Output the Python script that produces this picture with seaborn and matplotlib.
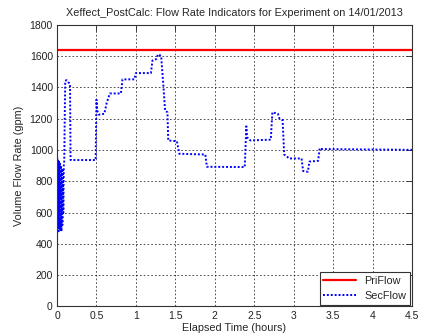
import numpy as np
import pandas as pd
import matplotlib
matplotlib.use("Agg")
import matplotlib.pyplot as plt
import seaborn as sns

# ---- data ----
pri_time = [0.0, 4.5]
pri_flow = [1637, 1637]

sec_time = [0.0, 0.002, 0.008, 0.014, 0.020, 0.026, 0.032, 0.038, 0.044, 0.050,
            0.056, 0.062, 0.068, 0.074, 0.080, 0.086, 0.092, 0.098, 0.104, 0.120,
            0.165, 0.172, 0.49, 0.50, 0.51, 0.53, 0.60, 0.63, 0.67, 0.81,
            0.83, 0.98, 1.00, 1.19, 1.21, 1.26, 1.28, 1.32, 1.35, 1.37,
            1.40, 1.41, 1.52, 1.55, 1.88, 1.90, 2.38, 2.40, 2.41, 2.45,
            2.71, 2.73, 2.80, 2.82, 2.86, 2.88, 2.92, 2.94, 3.10, 3.12,
            3.18, 3.20, 3.31, 3.33, 3.34, 4.5]
sec_flow = [100, 950, 490, 940, 480, 930, 500, 920, 490, 900,
            480, 880, 520, 870, 600, 900, 930, 1200, 1440, 1445,
            1420, 935, 935, 1320, 1250, 1225, 1230, 1300, 1360, 1360,
            1450, 1450, 1490, 1490, 1570, 1580, 1610, 1600, 1400, 1250,
            1240, 1060, 1055, 975, 970, 892, 890, 1150, 1080, 1060,
            1065, 1240, 1230, 1200, 1190, 970, 955, 945, 945, 865,
            860, 925, 930, 1010, 1005, 1000]

title = "Xeffect_PostCalc: Flow Rate Indicators for Experiment on 14/01/2013"
x_ticks = [0, 0.5, 1, 1.5, 2, 2.5, 3, 3.5, 4, 4.5]
x_tick_labels = ["0", "0.5", "1", "1.5", "2", "2.5", "3", "3.5", "4", "4.5"]
y_ticks = [0, 200, 400, 600, 800, 1000, 1200, 1400, 1600, 1800]

sns.set_style("white")
plt.rcParams['font.family'] = ['Liberation Sans', 'DejaVu Sans']

df_pri = pd.DataFrame({"t": pri_time, "v": pri_flow})
df_sec = pd.DataFrame({"t": sec_time, "v": sec_flow})

fig = plt.figure(figsize=(4.21, 3.36), dpi=100)
fig.patch.set_facecolor("white")
ax = fig.add_axes([0.1354, 0.0878, 0.8432, 0.8392])

sns.lineplot(data=df_pri, x="t", y="v", ax=ax, color=(1, 0, 0), lw=1.6,
             label="PriFlow", estimator=None, sort=False)
sns.lineplot(data=df_sec, x="t", y="v", ax=ax, color=(0, 0, 1), lw=1.4,
             linestyle=(0, (1, 1)), label="SecFlow", estimator=None, sort=False)

ax.set_xlim(0, 4.5)
ax.set_ylim(0, 1800)
ax.set_xticks(x_ticks)
ax.set_xticklabels(x_tick_labels)
ax.set_yticks(y_ticks)
ax.grid(True, color="black", linestyle=(0, (2, 2.5)), lw=0.6, alpha=0.8)
ax.set_axisbelow(True)
for s in ax.spines.values():
    s.set_color("#333333")
    s.set_linewidth(0.8)
ax.tick_params(direction="in", length=4, width=0.6, top=True, right=True,
               labelsize=7.5, colors="#222222", pad=3)

ax.set_title(title, fontsize=7.8, pad=6)
ax.set_xlabel("Elapsed Time (hours)", fontsize=7.8, labelpad=2)
ax.set_ylabel("Volume Flow Rate (gpm)", fontsize=7.8, labelpad=4)

leg = ax.legend(loc="lower right", fontsize=7.8, frameon=True, fancybox=False,
                borderaxespad=0.15, handlelength=3.0, framealpha=1,
                borderpad=0.35)
leg.get_frame().set_edgecolor("#333333")
leg.get_frame().set_linewidth(0.8)

fig.savefig("out.png", dpi=100, facecolor="white")
